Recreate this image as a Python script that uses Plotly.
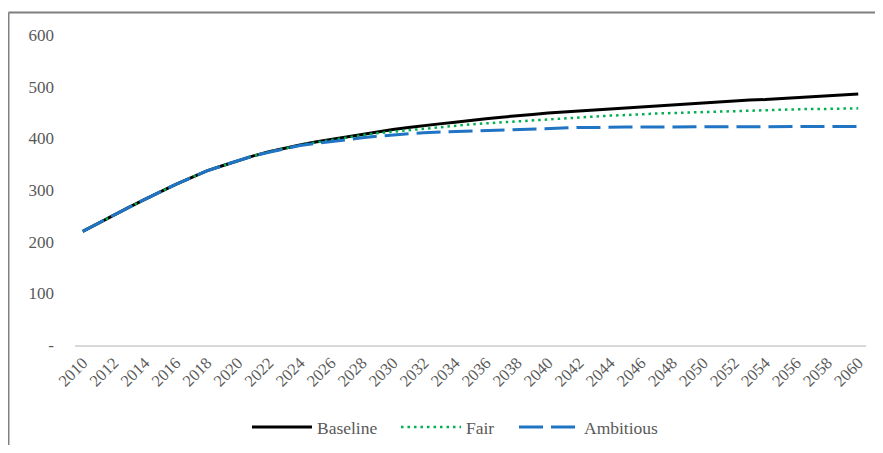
import plotly.graph_objects as go

years = list(range(2010, 2061))

baseline = [220, 236, 251, 267, 282, 297, 311, 324, 337, 347,
            357, 366, 374, 381, 387, 393, 398, 403, 408, 413,
            417, 421, 425, 428, 431, 435, 438, 441, 443, 446,
            449, 451, 453, 455, 457, 459, 461, 463, 465, 467,
            469, 470, 472, 474, 475, 477, 479, 480, 482, 484, 486]

fair = [220, 236, 251, 267, 282, 297, 311, 324, 337, 347,
        357, 366, 374, 381, 387, 392, 397, 402, 406, 410,
        413, 416, 419, 422, 424, 427, 429, 431, 433, 435,
        437, 439, 441, 442, 444, 445, 447, 448, 449, 450,
        451, 452, 453, 454, 455, 455, 456, 457, 457, 458, 458]

ambitious = [220, 236, 251, 267, 282, 297, 311, 324, 337, 347,
             357, 366, 373, 380, 386, 390, 394, 398, 401, 404,
             407, 409, 411, 412, 414, 415, 416, 417, 418, 419,
             420, 420, 421, 421, 422, 422, 422, 422, 422, 423,
             423, 423, 423, 423, 423, 423, 423, 423, 423, 423, 423]

y_tickvals = [0, 100, 200, 300, 400, 500, 600]
y_ticktext = ["-", "100", "200", "300", "400", "500", "600"]
x_tickvals = list(range(2010, 2061, 2))

FONT = "Liberation Serif"
GRAY = "#595959"

fig = go.Figure()
fig.add_trace(go.Scatter(x=years, y=baseline, mode="lines", name="Baseline",
                         legend="legend",
                         line=dict(color="#000000", width=3)))
fig.add_trace(go.Scatter(x=years, y=fair, mode="lines", name="Fair",
                         legend="legend2",
                         line=dict(color="#00b050", width=2.5, dash="2.5px,4px")))
fig.add_trace(go.Scatter(x=years, y=ambitious, mode="lines", name="Ambitious",
                         legend="legend3",
                         line=dict(color="#1f74c4", width=3, dash="24px,8px")))


def leg(x, w=60):
    return dict(orientation="h", x=x, xanchor="left", y=0.041, yanchor="middle",
                xref="paper", yref="container",
                font=dict(family=FONT, size=17.5, color=GRAY), itemwidth=w,
                bgcolor="rgba(0,0,0,0)")


fig.update_layout(
    width=867, height=437,
    margin=dict(l=67, r=9, t=27, b=100),
    paper_bgcolor="white", plot_bgcolor="white",
    font=dict(family=FONT, size=17, color=GRAY),
    showlegend=True,
    legend=leg(0.2174),
    legend2=leg(0.4058),
    legend3=leg(0.5550),
    xaxis=dict(range=[2009.5, 2060.5], tickvals=x_tickvals, tickangle=-45,
               showgrid=False, zeroline=False, showline=True, linecolor="#d9d9d9",
               linewidth=1.5, ticks="", automargin=False,
               tickfont=dict(family=FONT, size=16.5, color=GRAY)),
    yaxis=dict(range=[0, 600], tickvals=y_tickvals, ticktext=y_ticktext,
               showgrid=False, zeroline=False, showline=False, ticks="", automargin=False,
               ticklabelstandoff=20, tickfont=dict(family=FONT, size=17, color=GRAY)),
    shapes=[
        dict(type="line", xref="paper", yref="paper", x0=-0.0841, x1=-0.0841,
             y0=1.0726, y1=-0.4, line=dict(color="#7f7f7f", width=2)),
        dict(type="line", xref="paper", yref="paper", x0=-0.0841, x1=1.05,
             y0=1.0726, y1=1.0726, line=dict(color="#7f7f7f", width=2)),
    ],
)

fig.write_html("out.html")
